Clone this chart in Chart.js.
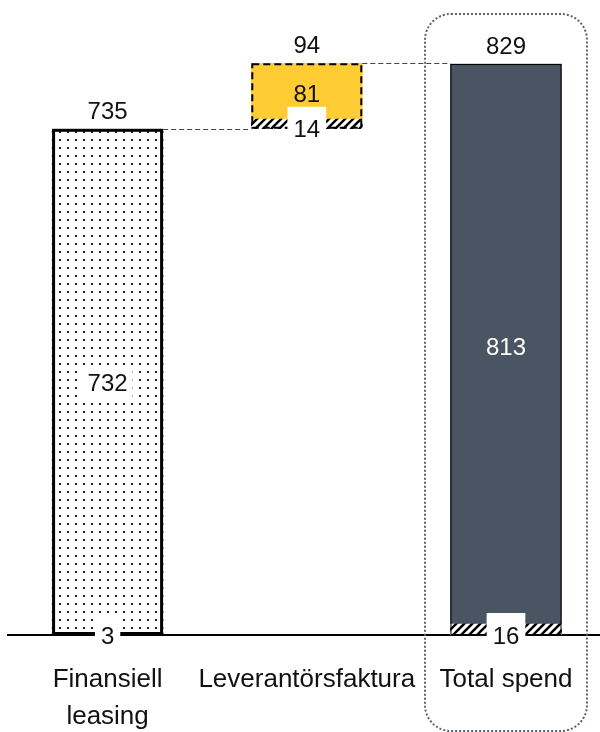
<!DOCTYPE html>
<html>
<head>
<meta charset="utf-8">
<script src="https://cdn.jsdelivr.net/npm/chart.js@4"></script>
<style>
html,body{margin:0;padding:0;background:#fff;}
#wrap{width:600px;height:732px;position:relative;}
</style>
</head>
<body>
<div id="wrap"><canvas id="c"></canvas></div>
<script>
// ---- data ----
const categories = [['Finansiell', 'leasing'], ['Leverantörsfaktura'], ['Total spend']];
const baseValues = [0, 735, 0];        // where each bar starts
const bottomValues = [3, 14, 16];      // small bottom segment
const mainValues = [732, 81, 813];     // main segment
const totalLabels = [735, 94, 829];    // labels above bars

const FONT = "'Liberation Sans', Arial, sans-serif";

function makeDots() {
  const c = document.createElement('canvas'); c.width = 8; c.height = 8;
  const g = c.getContext('2d');
  g.fillStyle = '#fff'; g.fillRect(0, 0, 8, 8);
  g.fillStyle = '#2a2a2a'; g.fillRect(3, 3, 2, 2);
  return g.createPattern(c, 'repeat');
}
function makeHatch() {
  const s = 8;
  const c = document.createElement('canvas'); c.width = s; c.height = s;
  const g = c.getContext('2d');
  g.fillStyle = '#fff'; g.fillRect(0, 0, s, s);
  g.strokeStyle = '#000'; g.lineWidth = 2.4;
  g.beginPath();
  g.moveTo(-1, s + 1); g.lineTo(s + 1, -1);
  g.moveTo(-2, 2); g.lineTo(2, -2);
  g.moveTo(s - 2, s + 2); g.lineTo(s + 2, s - 2);
  g.stroke();
  return g.createPattern(c, 'repeat');
}
const dots = makeDots();
const hatch = makeHatch();

const bottomData = categories.map((c, i) => ({x: i, y: [baseValues[i], baseValues[i] + bottomValues[i]]}));
const mainData = categories.map((c, i) => ({x: i, y: [baseValues[i] + bottomValues[i], baseValues[i] + bottomValues[i] + mainValues[i]]}));

const decor = {
  id: 'decor',
  afterDatasetsDraw(chart) {
    const ctx = chart.ctx;
    const m0 = chart.getDatasetMeta(0).data;
    const m1 = chart.getDatasetMeta(1).data;
    ctx.save();
    // borders
    categories.forEach((c, i) => {
      const top = m1[i].y, bot = m0[i].base;
      const l = m1[i].x - m1[i].width / 2, r = m1[i].x + m1[i].width / 2;
      ctx.setLineDash([]);
      if (i === 0) { ctx.lineWidth = 3; ctx.strokeStyle = '#000'; ctx.strokeRect(l + 1.5, top + 1.5, r - l - 3, bot - top - 3); }
      if (i === 1) { ctx.lineWidth = 2; ctx.strokeStyle = '#000'; ctx.setLineDash([7, 4]); ctx.strokeRect(l + 1, top + 1, r - l - 2, bot - top - 2); }
      if (i === 2) { ctx.lineWidth = 1; ctx.strokeStyle = '#000'; ctx.strokeRect(l + 0.5, top + 0.5, r - l - 1, bot - top - 1); }
    });
    // connectors
    ctx.setLineDash([5, 3]); ctx.lineWidth = 1; ctx.strokeStyle = '#444';
    for (let i = 0; i < categories.length - 1; i++) {
      const y = Math.round(m1[i].y) + 0.5;
      ctx.beginPath();
      ctx.moveTo(m1[i].x + m1[i].width / 2, y);
      ctx.lineTo(m1[i + 1].x - m1[i + 1].width / 2, y);
      ctx.stroke();
    }
    ctx.setLineDash([]);
    // labels
    ctx.font = '24px ' + FONT;
    ctx.textAlign = 'center';
    categories.forEach((c, i) => {
      const el0 = m0[i], el1 = m1[i];
      // total above
      ctx.fillStyle = '#111'; ctx.textBaseline = 'alphabetic';
      ctx.fillText(String(totalLabels[i]), el1.x, el1.y - 10);
      // main middle
      ctx.textBaseline = 'middle';
      const my = (el1.y + el1.base) / 2 + 4;
      const mt = String(mainValues[i]);
      if (i === 0) {
        const mw = ctx.measureText(mt).width + 10;
        ctx.fillStyle = '#fff';
        ctx.fillRect(el1.x - mw / 2, my - 16, mw, 30);
      }
      ctx.fillStyle = i === 2 ? '#fff' : '#111';
      ctx.fillText(mt, el1.x, my);
      // bottom with white box
      const t = String(bottomValues[i]);
      const w = ctx.measureText(t).width + 12;
      ctx.fillStyle = '#fff';
      ctx.fillRect(el0.x - w / 2, el0.base - 22, w, 40);
      ctx.fillStyle = '#111';
      ctx.fillText(t, el0.x, el0.base + 2);
    });
    // dotted rounded box around Total spend
    const xs = chart.scales.x;
    const cx = xs.getPixelForValue(2);
    const bl = cx - 81, br = cx + 81, bt = 14, bb = 731, rad = 26;
    ctx.strokeStyle = '#5b6570'; ctx.lineWidth = 2; ctx.setLineDash([2, 2]);
    ctx.beginPath();
    ctx.roundRect(bl, bt, br - bl, bb - bt, rad);
    ctx.stroke();
    ctx.restore();
  }
};

new Chart(document.getElementById('c'), {
  type: 'bar',
  data: {
    datasets: [
      {data: bottomData, backgroundColor: ['#000', hatch, hatch], borderWidth: 0, barThickness: 111},
      {data: mainData, backgroundColor: [dots, '#FFCC33', '#4A5563'], borderWidth: 0, barThickness: 111}
    ]
  },
  options: {
    responsive: true,
    maintainAspectRatio: false,
    animation: false,
    layout: {padding: {left: 8, right: 0, top: 0, bottom: 0}},
    plugins: {legend: {display: false}, tooltip: {enabled: false}},
    scales: {
      x: {
        type: 'linear',
        offset: false,
        stacked: true,
        min: -0.5,
        max: 2.472,
        bounds: 'data',
        grid: {display: false, drawTicks: false, offset: false},
        border: {display: true, color: '#000', width: 2},
        afterBuildTicks(scale) { scale.ticks = categories.map((c, i) => ({value: i})); },
        afterFit(scale) { scale.height = 97; },
        ticks: {
          padding: 26,
          autoSkip: false,
          maxRotation: 0,
          minRotation: 0,
          color: '#111',
          font: {family: FONT, size: 26, lineHeight: 1.42},
          callback(v) {
            const i = Math.round(v);
            return (Math.abs(v - i) < 1e-6 && categories[i]) ? categories[i] : '';
          }
        }
      },
      y: {display: false, min: 0, max: 922, stacked: false}
    }
  },
  plugins: [decor]
});
</script>
</body>
</html>
